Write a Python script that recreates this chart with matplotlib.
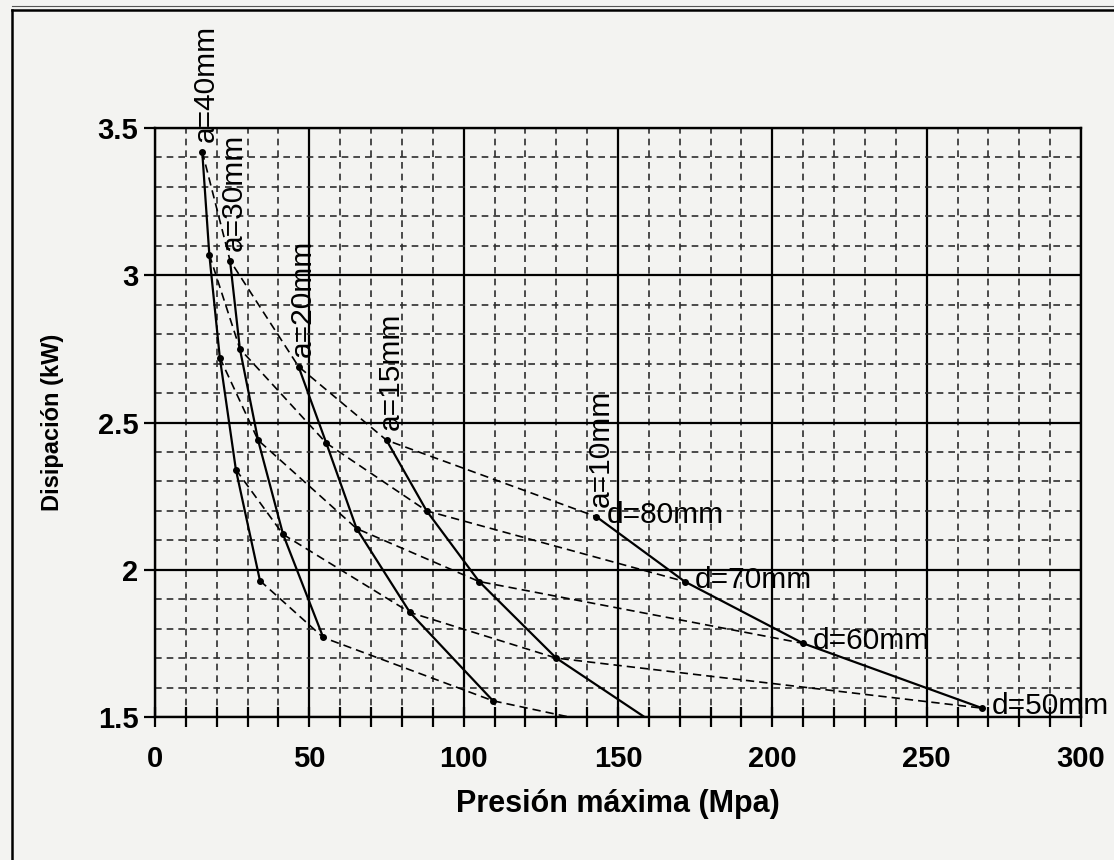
import matplotlib
matplotlib.use("Agg")
import matplotlib.pyplot as plt
from matplotlib.ticker import MultipleLocator, FormatStrFormatter
from matplotlib.lines import Line2D

plt.rcParams['font.family'] = ['Liberation Sans', 'DejaVu Sans']

# presion maxima (Mpa) / disipacion (kW),
# points ordered d=80, 70, 60, 50, 40 mm
a_labels = ['a=40mm', 'a=30mm', 'a=20mm', 'a=15mm', 'a=10mm']
p_a40 = [15.3, 17.6, 21.0, 26.2, 34.0]
q_a40 = [3.42, 3.07, 2.72, 2.34, 1.963]
p_a30 = [24.3, 27.5, 33.4, 41.5, 54.5]
q_a30 = [3.05, 2.75, 2.44, 2.12, 1.77]
p_a20 = [46.5, 55.5, 65.3, 82.6, 109.5]
q_a20 = [2.69, 2.43, 2.14, 1.855, 1.555]
p_a15 = [75.0, 88.0, 105.0, 130.0, 170.0]
q_a15 = [2.44, 2.20, 1.96, 1.70, 1.42]
p_a10 = [143.0, 171.6, 210.0, 268.0]
q_a10 = [2.18, 1.96, 1.75, 1.53]

d_labels = ['d=80mm', 'd=70mm', 'd=60mm', 'd=50mm', 'd=40mm']

curves_p = [p_a40, p_a30, p_a20, p_a15, p_a10]
curves_q = [q_a40, q_a30, q_a20, q_a15, q_a10]

bg = '#f3f3f1'
fig = plt.figure(figsize=(11.14, 8.6), dpi=100, facecolor=bg)
ax = fig.add_axes([155/1114, 1 - 717/860, (1081 - 155)/1114, (717 - 128)/860])
ax.set_facecolor(bg)

ax.set_xlim(0, 300)
ax.set_ylim(1.5, 3.5)
ax.xaxis.set_major_locator(MultipleLocator(50))
ax.xaxis.set_minor_locator(MultipleLocator(10))
ax.yaxis.set_major_locator(MultipleLocator(0.5))
ax.yaxis.set_minor_locator(MultipleLocator(0.1))
ax.yaxis.set_major_formatter(FormatStrFormatter('%g'))

ax.grid(which='major', color='black', linewidth=1.6, linestyle='-')
ax.grid(which='minor', color='#2e2e2e', linewidth=1.2, linestyle=(0, (4, 3)))
ax.set_axisbelow(True)

for s in ax.spines.values():
    s.set_linewidth(1.7)
    s.set_color('black')

ax.tick_params(axis='x', which='both', direction='inout', length=14, width=1.6,
               labelsize=21, pad=13)
ax.tick_params(axis='y', which='major', direction='out', length=8, width=1.6,
               labelsize=21, pad=4)
ax.tick_params(axis='y', which='minor', length=0)
for lab in ax.get_xticklabels() + ax.get_yticklabels():
    lab.set_fontweight('bold')

# dashed curves of constant d (same index on each a curve)
for i, dl in enumerate(d_labels):
    xs = [p[i] for p in curves_p if i < len(p)]
    ys = [q[i] for q in curves_q if i < len(q)]
    ax.plot(xs, ys, color='black', linewidth=1.2, linestyle=(0, (5, 3)),
            clip_on=True, zorder=3)

# solid curves of constant a
for p, q, al in zip(curves_p, curves_q, a_labels):
    ax.plot(p, q, color='black', linewidth=1.6, marker='o', markersize=4,
            clip_on=True, zorder=4)
    ax.annotate(al, (p[0], q[0]), xytext=(4, 10), textcoords='offset pixels',
                rotation=90, ha='center', va='bottom', fontsize=21.5,
                annotation_clip=False, zorder=5)

for i in range(len(p_a10)):
    ax.annotate(d_labels[i], (p_a10[i], q_a10[i]), xytext=(10, 2),
                textcoords='offset pixels', ha='left', va='center',
                fontsize=21.5, annotation_clip=False, zorder=5)

ax.set_xlabel('Presión máxima (Mpa)', fontsize=22, fontweight='bold', labelpad=12)
ax.set_ylabel('Disipación (kW)', fontsize=17, fontweight='bold', labelpad=24)

# outer frame of the original chart area
fig.add_artist(Line2D([12/1114, 12/1114], [0, 1 - 10/860], transform=fig.transFigure,
                      color='black', linewidth=1.8))
fig.add_artist(Line2D([12/1114, 1], [1 - 10/860, 1 - 10/860], transform=fig.transFigure,
                      color='black', linewidth=1.8))
fig.add_artist(Line2D([12/1114, 1], [1 - 6/860, 1 - 6/860], transform=fig.transFigure,
                      color='#555555', linewidth=0.8))

fig.savefig('out.png', dpi=100, facecolor=bg)
